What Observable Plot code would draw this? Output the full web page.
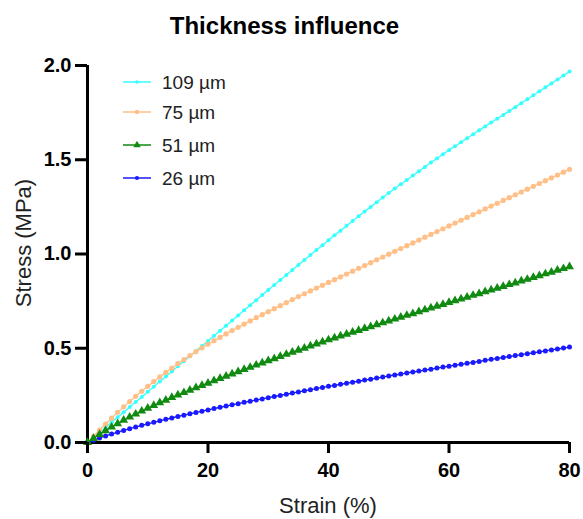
<!DOCTYPE html>
<html>
<head>
<meta charset="utf-8">
<script src="https://cdn.jsdelivr.net/npm/d3@7"></script>
<script src="https://cdn.jsdelivr.net/npm/@observablehq/plot@0.6"></script>
<style>
  body { margin: 0; background: #fff; font-family: 'Liberation Sans', Arial, sans-serif; }
  #title { height: 45px; box-sizing: border-box; padding-top: 14px; padding-right: 14px; text-align: center; font-weight: bold; font-size: 24px; line-height: 1; color: #000; }
</style>
</head>
<body>
<div id="title">Thickness influence</div>
<div id="chart"></div>
<script>
// ---- data ----
const seriesNames = ["109 µm", "75 µm", "51 µm", "26 µm"];
const seriesColors = ["#33ffff", "#ffbf86", "#118a11", "#1a1aff"];
const xTicks = [0, 20, 40, 60, 80];
const yTicks = [0, 0.5, 1.0, 1.5, 2.0];

const strain = [0,1,2,3,4,5,6,7,8,9,10,11,12,13,14,15,16,17,18,19,20,
  21,22,23,24,25,26,27,28,29,30,31,32,33,34,35,36,37,38,39,40,
  41,42,43,44,45,46,47,48,49,50,51,52,53,54,55,56,57,58,59,60,
  61,62,63,64,65,66,67,68,69,70,71,72,73,74,75,76,77,78,79,80];

const stress109 = [0,0.026,0.053,0.080,0.107,0.134,0.161,0.188,0.215,0.242,0.269,
  0.296,0.323,0.350,0.377,0.404,0.431,0.458,0.485,0.512,0.539,
  0.566,0.593,0.620,0.647,0.674,0.701,0.728,0.755,0.782,0.809,
  0.836,0.862,0.889,0.915,0.942,0.968,0.995,1.021,1.047,1.073,
  1.099,1.124,1.150,1.175,1.200,1.225,1.250,1.275,1.300,1.324,
  1.347,1.370,1.393,1.416,1.439,1.462,1.485,1.507,1.529,1.551,
  1.572,1.593,1.614,1.635,1.656,1.677,1.698,1.718,1.738,1.758,
  1.779,1.800,1.821,1.842,1.863,1.884,1.905,1.926,1.947,1.968];

const stress75 = [0,0.033,0.066,0.098,0.129,0.160,0.189,0.217,0.245,0.272,0.298,
  0.323,0.348,0.372,0.395,0.418,0.440,0.461,0.482,0.502,0.522,
  0.540,0.558,0.576,0.594,0.611,0.628,0.645,0.662,0.678,0.694,
  0.710,0.726,0.742,0.758,0.774,0.789,0.804,0.819,0.834,0.849,
  0.864,0.879,0.894,0.909,0.924,0.939,0.954,0.969,0.984,0.999,
  1.014,1.029,1.044,1.059,1.074,1.089,1.104,1.119,1.134,1.149,
  1.164,1.179,1.194,1.209,1.224,1.239,1.254,1.269,1.284,1.299,
  1.314,1.329,1.344,1.359,1.374,1.389,1.404,1.419,1.434,1.449];

const stress51 = [0,0.022,0.043,0.063,0.082,0.100,0.118,0.135,0.151,0.167,0.182,
  0.197,0.211,0.225,0.239,0.252,0.265,0.278,0.291,0.303,0.315,
  0.328,0.340,0.352,0.364,0.376,0.388,0.399,0.411,0.422,0.434,
  0.445,0.457,0.468,0.479,0.490,0.501,0.512,0.523,0.534,0.545,
  0.555,0.565,0.575,0.585,0.595,0.605,0.615,0.625,0.635,0.645,
  0.655,0.665,0.675,0.684,0.694,0.704,0.714,0.723,0.733,0.743,
  0.752,0.762,0.771,0.781,0.790,0.800,0.809,0.819,0.828,0.838,
  0.847,0.857,0.866,0.876,0.885,0.895,0.904,0.914,0.923,0.933];

const stress26 = [0,0.012,0.024,0.035,0.045,0.055,0.064,0.073,0.082,0.091,0.099,
  0.107,0.115,0.123,0.130,0.138,0.145,0.152,0.159,0.166,0.173,
  0.180,0.187,0.193,0.200,0.206,0.213,0.219,0.225,0.231,0.238,
  0.244,0.250,0.256,0.262,0.268,0.274,0.280,0.286,0.292,0.298,
  0.303,0.309,0.314,0.320,0.325,0.331,0.336,0.342,0.347,0.353,
  0.358,0.363,0.369,0.374,0.379,0.384,0.389,0.395,0.400,0.405,
  0.410,0.415,0.420,0.425,0.430,0.436,0.441,0.446,0.451,0.456,
  0.461,0.466,0.471,0.476,0.481,0.486,0.491,0.496,0.501,0.506];

const seriesValues = [stress109, stress75, stress51, stress26];

// ---- styles ----
const symbols = ["circle", "circle", "triangle", "circle"];
const radii = [2.0, 2.6, 3.3, 2.5];
const drawOrder = [0, 1, 3, 2];

const rows = seriesValues.map((vals, i) =>
  strain.map((s, j) => ({strain: s, stress: vals[j], series: seriesNames[i]})));

const FONT = "'Liberation Sans', Arial, sans-serif";
const W = 583, H = 474;
const mTop = 20, mBottom = 77, mLeft = 87, mRight = 14;

const marks = [
  Plot.ruleY([0], {stroke: "black", strokeWidth: 3}),
  Plot.ruleX([0], {stroke: "black", strokeWidth: 3})
];
for (const i of drawOrder) {
  marks.push(Plot.line(rows[i], {x: "strain", y: "stress", stroke: seriesColors[i], strokeWidth: 1.3}));
  marks.push(Plot.dot(rows[i], {x: "strain", y: "stress", fill: seriesColors[i], stroke: "none", r: radii[i], symbol: symbols[i]}));
}
marks.push(Plot.axisX({ticks: xTicks, tickSize: 11, tickPadding: 9, strokeWidth: 3, fontSize: 20, fontWeight: "bold", fill: "black", stroke: "black", label: null}));
marks.push(Plot.axisY({ticks: yTicks, tickFormat: d3.format(".1f"), tickSize: 12, tickPadding: 4, strokeWidth: 3, fontSize: 20, fontWeight: "bold", fill: "black", stroke: "black", label: null}));

const chart = Plot.plot({
  width: W, height: H,
  marginTop: mTop, marginBottom: mBottom, marginLeft: mLeft, marginRight: mRight,
  style: {fontFamily: FONT, background: "white", color: "black", overflow: "visible"},
  x: {domain: [0, 80], label: null},
  y: {domain: [0, 2], label: null},
  marks
});
document.getElementById("chart").appendChild(chart);

// ---- axis titles & legend ----
const svg = d3.select(chart);
svg.append("text")
  .attr("x", 328).attr("y", 468)
  .attr("text-anchor", "middle")
  .attr("font-family", FONT).attr("font-size", 22).attr("fill", "#222")
  .text("Strain (%)");
svg.append("text")
  .attr("transform", "translate(31,198) rotate(-90)")
  .attr("text-anchor", "middle")
  .attr("font-family", FONT).attr("font-size", 22).attr("fill", "#222")
  .text("Stress (MPa)");

const legendY = [37, 67, 100, 133];
const lg = svg.append("g");
seriesNames.forEach((name, i) => {
  const g = lg.append("g").attr("transform", `translate(0,${legendY[i]})`);
  g.append("line").attr("x1", 123).attr("x2", 151).attr("y1", 0).attr("y2", 0)
    .attr("stroke", seriesColors[i]).attr("stroke-width", 1.5);
  const sym = symbols[i] === "triangle" ? d3.symbolTriangle : d3.symbolCircle;
  g.append("path").attr("transform", "translate(137,0)")
    .attr("d", d3.symbol(sym, Math.PI * radii[i] * radii[i] * 0.7)())
    .attr("fill", seriesColors[i]);
  g.append("text").attr("x", 162).attr("y", 0).attr("dy", "0.35em")
    .attr("text-anchor", "start")
    .attr("font-family", FONT).attr("font-size", 19).attr("fill", "#222")
    .text(name);
});
</script>
</body>
</html>
